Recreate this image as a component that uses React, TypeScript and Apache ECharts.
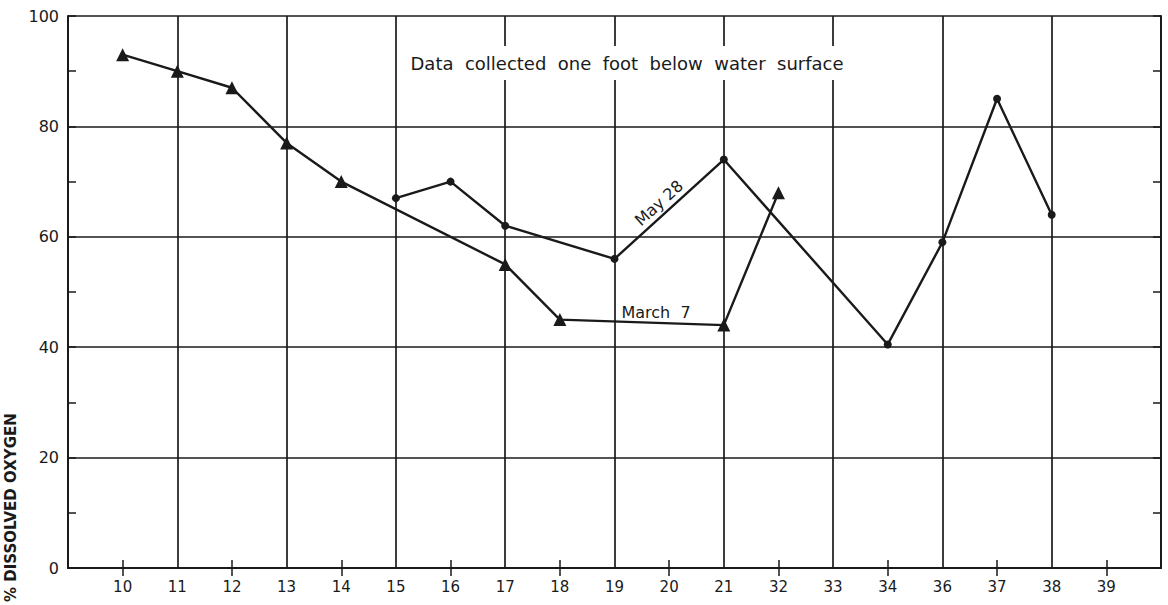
import React, { useEffect, useRef } from "react";
import * as echarts from "echarts";

const categories = ["10", "11", "12", "13", "14", "15", "16", "17", "18", "19", "20", "21", "32", "33", "34", "36", "37", "38", "39"];
const march7Cats = ["10", "11", "12", "13", "14", "17", "18", "21", "32"];
const march7Vals = [93, 90, 87, 77, 70, 55, 45, 44, 68];
const may28Cats = ["15", "16", "17", "19", "21", "34", "36", "37", "38"];
const may28Vals = [67, 70, 62, 56, 74, 40.5, 59, 85, 64];
const yTicks = [0, 20, 40, 60, 80, 100];

const INK = "#1a1a1a";
const FONT = "DejaVu Sans";

export default function App() {
  const ref = useRef<HTMLDivElement>(null);
  useEffect(() => {
    document.body.style.margin = "0";
    const chart = echarts.init(ref.current!, null, { renderer: "svg" });
    const axisData = ["", ...categories, ""];
    const n = axisData.length;
    const tickInt = (i: number) => i % 2 === 1;
    const gridInt = (i: number) => i % 2 === 0 && i > 0 && i < n - 1;
    chart.setOption({
      animation: false,
      backgroundColor: "#ffffff",
      grid: { left: 68, right: 7, top: 16, bottom: 37 },
      xAxis: [
        {
          type: "category",
          data: axisData,
          boundaryGap: false,
          position: "bottom",
          axisLine: { lineStyle: { color: INK, width: 2 } },
          axisTick: { inside: true, length: 8, interval: tickInt, lineStyle: { color: INK, width: 1.5 } },
          axisLabel: { interval: 0, color: INK, fontFamily: FONT, fontSize: 15, margin: 11 },
          splitLine: { show: true, interval: gridInt, lineStyle: { color: INK, width: 1.7 } },
        },
        {
          type: "category",
          data: axisData,
          boundaryGap: false,
          position: "top",
          axisLine: { lineStyle: { color: INK, width: 2 } },
          axisTick: { inside: true, length: 8, interval: tickInt, lineStyle: { color: INK, width: 1.5 } },
          axisLabel: { show: false },
          splitLine: { show: false },
        },
      ],
      yAxis: [
        {
          type: "value",
          min: 0,
          max: 100,
          interval: 20,
          position: "left",
          axisLine: { show: true, lineStyle: { color: INK, width: 2 } },
          axisTick: { show: true, inside: true, length: 8, lineStyle: { color: INK, width: 1.5 } },
          minorTick: { show: true, splitNumber: 2, length: 8, lineStyle: { color: INK, width: 1.5 } },
          axisLabel: {
            color: INK, fontFamily: FONT, fontSize: 16, margin: 9,
            formatter: (v: number) => (yTicks.includes(v) ? String(v) : ""),
          },
          splitLine: { show: true, lineStyle: { color: INK, width: 1.7 } },
        },
        {
          type: "value",
          min: 0,
          max: 100,
          interval: 20,
          position: "right",
          axisLine: { show: true, lineStyle: { color: INK, width: 2 } },
          axisTick: { show: true, inside: true, length: 8, lineStyle: { color: INK, width: 1.5 } },
          minorTick: { show: true, splitNumber: 2, length: 8, lineStyle: { color: INK, width: 1.5 } },
          axisLabel: { show: false },
          splitLine: { show: false },
        },
      ],
      graphic: [
        {
          type: "text",
          x: 627,
          y: 63,
          z: 10,
          style: {
            text: "Data  collected  one  foot  below  water  surface",
            font: `18px "${FONT}"`,
            fill: INK,
            align: "center",
            verticalAlign: "middle",
            backgroundColor: "#ffffff",
            padding: [8, 4],
          },
        },
        {
          type: "text",
          x: 659,
          y: 203,
          rotation: (42 * Math.PI) / 180,
          z: 10,
          style: { text: "May 28", font: `16px "${FONT}"`, fill: INK, align: "center", verticalAlign: "middle" },
        },
        {
          type: "text",
          x: 656,
          y: 312,
          z: 10,
          style: { text: "March  7", font: `16px "${FONT}"`, fill: INK, align: "center", verticalAlign: "middle" },
        },
        {
          type: "text",
          x: 11,
          y: 602,
          rotation: Math.PI / 2,
          z: 10,
          style: {
            text: "% DISSOLVED OXYGEN",
            font: `bold 15px "${FONT}"`,
            fill: INK,
            align: "left",
            verticalAlign: "middle",
          },
        },
      ],
      series: [
        {
          name: "March 7",
          type: "line",
          data: march7Cats.map((c, i) => [c, march7Vals[i]]),
          symbol: "triangle",
          symbolSize: 13,
          lineStyle: { color: INK, width: 2.4 },
          itemStyle: { color: INK },
          z: 5,
        },
        {
          name: "May 28",
          type: "line",
          data: may28Cats.map((c, i) => [c, may28Vals[i]]),
          symbol: "circle",
          symbolSize: 8,
          lineStyle: { color: INK, width: 2.4 },
          itemStyle: { color: INK },
          z: 5,
        },
      ],
    });
    return () => chart.dispose();
  }, []);
  return <div ref={ref} style={{ width: 1168, height: 605 }} />;
}
